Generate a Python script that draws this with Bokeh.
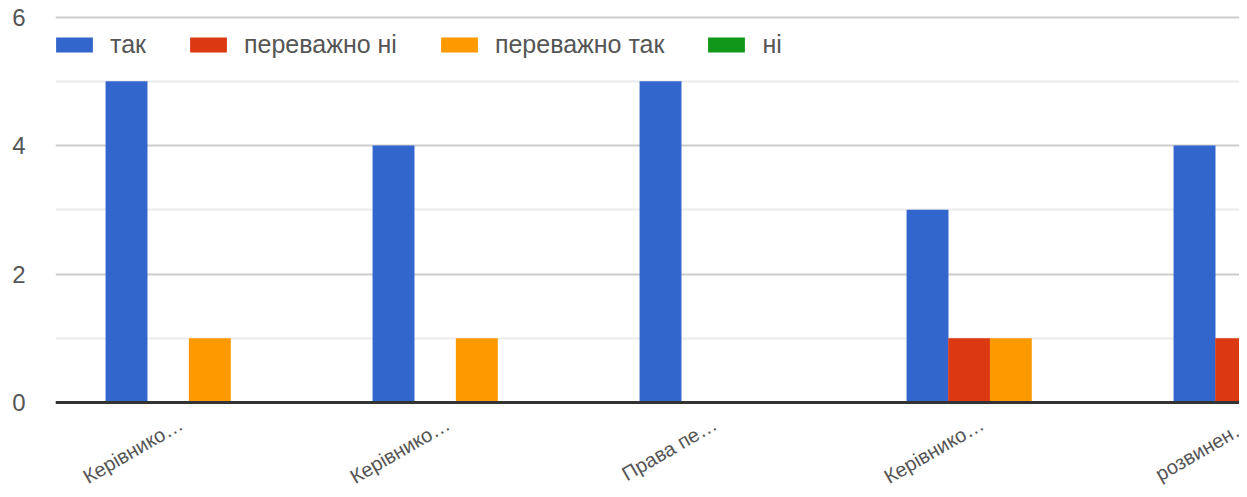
import math
from bokeh.plotting import figure
from bokeh.models import (ColumnDataSource, Range1d, FixedTicker,
                          Legend, LegendItem, Span)
from bokeh.core.properties import value
from bokeh.transform import dodge
from bokeh.embed import file_html
from bokeh.resources import INLINE

# ---- data ----
categories = ["Керівнико…", "Керівнико…", "Права пе…", "Керівнико…", "розвинен…"]
series_names = ["так", "переважно ні", "переважно так", "ні"]
tak = [5, 4, 5, 3, 4]
perevazhno_ni = [0, 0, 0, 1, 1]
perevazhno_tak = [1, 1, 0, 1, 0]
ni = [0, 0, 0, 0, 0]
colors = ["#3366cc", "#dc3912", "#ff9900", "#109618"]
y_ticks = [0, 2, 4, 6]
y_minor = [1, 3, 5]

FONT = "Liberation Sans"
W, H = 1239, 489
LEFT, TOP = 55, 14
x_end = (W - LEFT) / 267.0

x_pos = [i + 0.5 for i in range(len(categories))]
src = ColumnDataSource(dict(x=x_pos, cat=categories, s0=tak, s1=perevazhno_ni,
                            s2=perevazhno_tak, s3=ni, zero=[0] * len(categories)))

p = figure(width=W, height=H, output_backend="svg", toolbar_location=None,
           x_range=Range1d(0, x_end), y_range=Range1d(-1.354, 6.039),
           min_border_left=LEFT, min_border_right=0, min_border_top=TOP,
           min_border_bottom=0, x_axis_location=None)
p.outline_line_color = None

bw = 0.157
offsets = [-0.234, -0.078, 0.078, 0.234]
renderers = []
for k, (name, col) in enumerate(zip(series_names, colors)):
    r = p.vbar(x=dodge("x", offsets[k], range=p.x_range), top="s%d" % k, width=bw,
               source=src, fill_color=col, line_color=None)
    renderers.append((name, r))

# y axis
p.yaxis.ticker = FixedTicker(ticks=y_ticks, minor_ticks=y_minor)
p.yaxis.axis_line_color = None
p.yaxis.major_tick_line_color = None
p.yaxis.minor_tick_line_color = None
p.yaxis.major_label_standoff = 24
p.yaxis.major_label_text_font = FONT
p.yaxis.major_label_text_font_size = "24px"
p.yaxis.major_label_text_color = "#555555"

p.xgrid.grid_line_color = None
p.ygrid.grid_line_color = "#cccccc"
p.ygrid.grid_line_width = 2
p.ygrid.minor_grid_line_color = "#ebebeb"
p.ygrid.minor_grid_line_width = 2

# dark baseline at zero
p.add_layout(Span(location=0, dimension="width", line_color="#333333", line_width=3))

# rotated category labels under the baseline
p.text(x="x", y="zero", text="cat", source=src, angle=math.pi / 6,
       text_align="right", text_baseline="middle", x_offset=-8, y_offset=20,
       text_font=value(FONT), text_font_size="20px", text_color="#555555")

legend = Legend(items=[LegendItem(label=n, renderers=[r]) for n, r in renderers],
                orientation="horizontal", location=(-4, 430),
                glyph_width=46, glyph_height=19, label_standoff=13, spacing=39,
                padding=0, margin=0, border_line_color=None, background_fill_alpha=0,
                label_text_font=FONT, label_text_font_size="25px",
                label_text_color="#555555")
p.add_layout(legend)

open("out.html", "w").write(file_html(p, INLINE))
